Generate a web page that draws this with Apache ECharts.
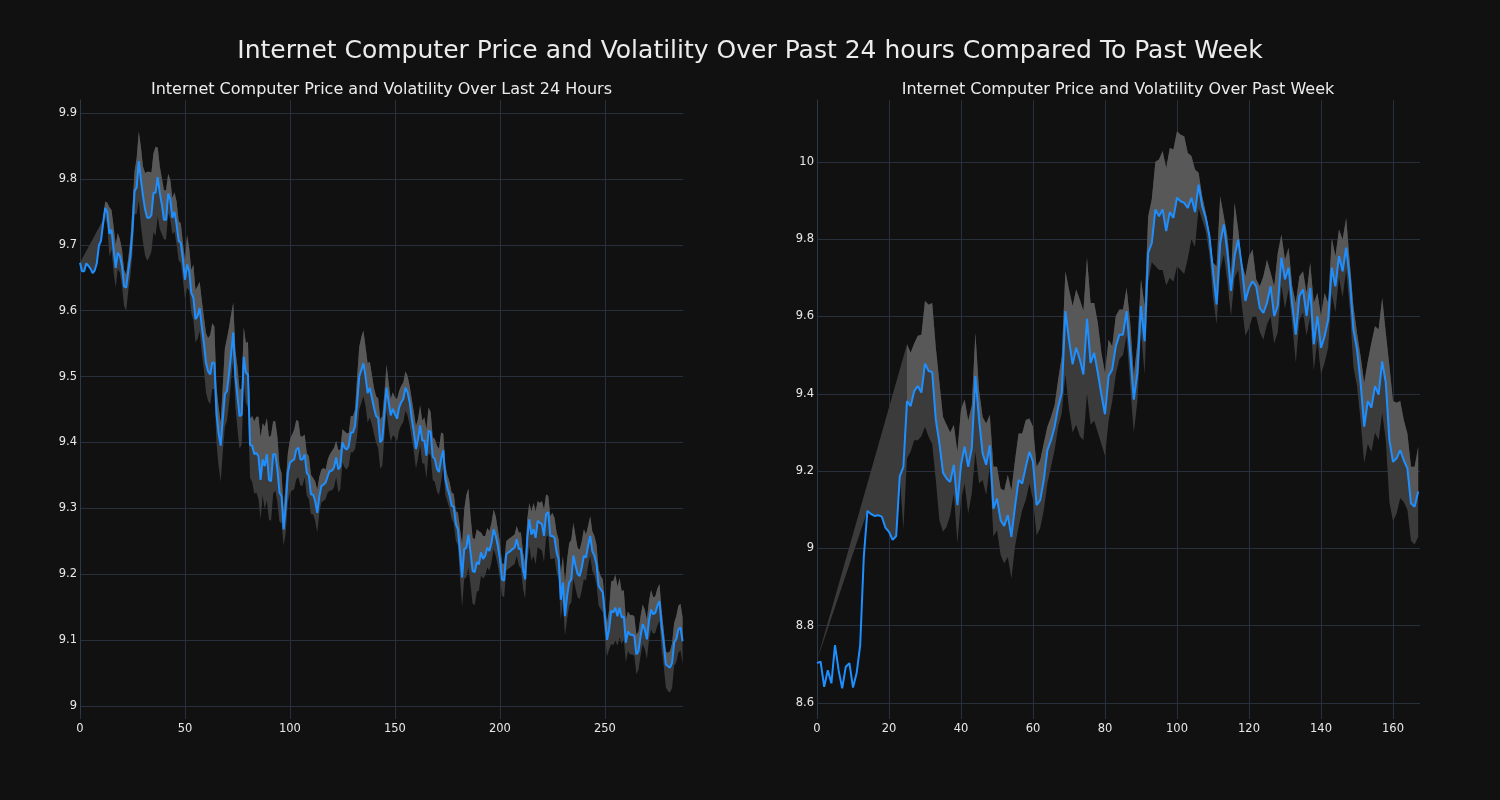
<!DOCTYPE html>
<html>
<head>
<meta charset="utf-8">
<script src="https://cdn.jsdelivr.net/npm/echarts@6/dist/echarts.min.js"></script>
<style>
html,body{margin:0;padding:0;background:#111111;}
#chart{width:1500px;height:800px;}
</style>
</head>
<body>
<div id="chart"></div>
<script>
// ---------- Data: last 24 hours (index = 5-minute step) ----------
const dayPrice = [
9.673,9.660,9.660,9.672,9.668,9.664,9.657,9.661,9.672,9.699,
9.706,9.733,9.756,9.749,9.717,9.723,9.693,9.665,9.688,9.683,
9.668,9.637,9.635,9.660,9.683,9.723,9.782,9.787,9.827,9.799,
9.774,9.754,9.741,9.741,9.745,9.779,9.779,9.803,9.779,9.761,
9.738,9.738,9.778,9.769,9.741,9.750,9.731,9.706,9.703,9.678,
9.647,9.670,9.660,9.627,9.620,9.587,9.592,9.604,9.576,9.551,
9.521,9.508,9.503,9.521,9.521,9.444,9.414,9.395,9.435,9.473,
9.478,9.505,9.535,9.567,9.500,9.470,9.440,9.442,9.530,9.506,
9.503,9.396,9.395,9.382,9.384,9.379,9.343,9.374,9.364,9.382,
9.343,9.341,9.382,9.382,9.359,9.324,9.318,9.268,9.303,9.354,
9.369,9.372,9.374,9.389,9.392,9.374,9.374,9.382,9.354,9.349,
9.321,9.321,9.311,9.293,9.318,9.334,9.336,9.339,9.349,9.357,
9.357,9.362,9.377,9.359,9.364,9.400,9.392,9.389,9.394,9.415,
9.415,9.425,9.460,9.500,9.510,9.520,9.500,9.475,9.483,9.468,
9.453,9.440,9.437,9.400,9.405,9.445,9.483,9.461,9.441,9.451,
9.443,9.436,9.453,9.461,9.466,9.483,9.476,9.461,9.436,9.416,
9.390,9.405,9.426,9.403,9.403,9.380,9.418,9.416,9.378,9.375,
9.360,9.355,9.375,9.388,9.345,9.330,9.320,9.304,9.302,9.276,
9.268,9.233,9.195,9.238,9.240,9.260,9.233,9.205,9.203,9.218,
9.215,9.233,9.223,9.228,9.240,9.235,9.248,9.268,9.258,9.243,
9.223,9.192,9.190,9.230,9.233,9.235,9.238,9.240,9.253,9.238,
9.238,9.208,9.192,9.253,9.283,9.260,9.268,9.255,9.281,9.278,
9.276,9.258,9.291,9.294,9.258,9.258,9.255,9.233,9.222,9.161,
9.187,9.136,9.167,9.187,9.192,9.228,9.213,9.200,9.197,9.210,
9.228,9.225,9.243,9.258,9.235,9.228,9.215,9.182,9.177,9.172,
9.136,9.100,9.116,9.144,9.142,9.149,9.136,9.149,9.134,9.136,
9.096,9.113,9.108,9.108,9.106,9.078,9.083,9.106,9.124,9.116,
9.101,9.129,9.146,9.139,9.141,9.152,9.159,9.121,9.096,9.063,
9.060,9.058,9.065,9.096,9.101,9.116,9.119,9.098
];
// volatility above the price (null = not yet available)
const dayVolUp = [
0,null,null,null,null,null,null,null,null,null,
null,.005,.01,.015,.04,.03,.035,.035,.03,.025,
.025,.025,.02,.02,.025,.035,.03,.045,.045,.05,
.045,.055,.07,.07,.065,.06,.07,.045,.04,.04,
.045,.045,.03,.03,.03,.03,.035,.03,.03,.025,
.03,.045,.035,.035,.05,.045,.045,.04,.04,.04,
.045,.05,.06,.06,.055,.04,.04,.035,.05,.07,
.08,.07,.06,.045,.04,.045,.04,.04,.045,.045,
.05,.04,.045,.05,.055,.06,.065,.055,.06,.055,
.065,.07,.05,.05,.05,.04,.035,.03,.035,.03,
.035,.04,.045,.045,.04,.035,.035,.03,.03,.03,
.03,.025,.03,.035,.03,.025,.025,.02,.025,.025,
.03,.03,.025,.03,.025,.02,.025,.025,.02,.025,
.025,.025,.04,.045,.05,.05,.045,.045,.04,.035,
.03,.03,.03,.035,.035,.03,.035,.03,.025,.025,
.025,.03,.025,.025,.025,.025,.025,.025,.03,.03,
.035,.03,.03,.03,.035,.04,.035,.03,.03,.03,
.035,.035,.04,.025,.02,.02,.02,.02,.02,.02,
.025,.035,.05,.06,.08,.07,.055,.05,.05,.05,
.05,.03,.035,.03,.03,.03,.03,.03,.03,.025,
.025,.025,.025,.02,.02,.02,.02,.02,.02,.025,
.025,.025,.025,.03,.025,.035,.04,.04,.03,.03,
.035,.04,.03,.025,.03,.035,.03,.03,.03,.04,
.04,.05,.055,.06,.06,.05,.045,.04,.04,.04,
.04,.035,.03,.03,.03,.03,.03,.025,.02,.02,
.02,.025,.03,.045,.048,.05,.045,.045,.04,.04,
.035,.03,.03,.03,.03,.03,.03,.03,.03,.03,
.03,.03,.03,.026,.025,.026,.026,.025,.02,.02,
.02,.025,.03,.03,.035,.036,.036,.036
];
// volatility below the price
const dayVolDown = [
0,0,0,0,0,0,0,0,0,0,
0,.01,.015,.02,.035,.03,.035,.03,.025,.025,
.03,.03,.035,.03,.03,.035,.035,.04,.06,.07,
.07,.07,.065,.06,.055,.06,.065,.06,.055,.045,
.03,.03,.03,.03,.025,.03,.03,.03,.03,.03,
.03,.035,.03,.03,.035,.035,.035,.035,.04,.04,
.045,.045,.045,.04,.04,.045,.05,.055,.05,.05,
.045,.045,.04,.04,.045,.05,.05,.045,.04,.045,
.05,.05,.055,.06,.06,.065,.06,.055,.065,.07,
.06,.06,.06,.055,.05,.045,.04,.025,.04,.045,
.045,.045,.045,.045,.045,.04,.04,.035,.035,.035,
.03,.03,.03,.03,.025,.025,.025,.025,.025,.03,
.03,.03,.03,.035,.035,.03,.03,.03,.03,.03,
.03,.035,.05,.05,.05,.05,.045,.045,.045,.04,
.04,.04,.045,.04,.04,.035,.035,.04,.04,.04,
.035,.035,.035,.035,.035,.035,.035,.035,.03,.03,
.03,.03,.03,.035,.035,.035,.035,.035,.035,.035,
.035,.035,.035,.025,.025,.02,.02,.02,.025,.025,
.025,.04,.045,.045,.045,.05,.05,.05,.05,.045,
.04,.035,.03,.03,.03,.03,.03,.03,.03,.03,
.03,.025,.025,.025,.025,.025,.025,.025,.025,.025,
.03,.03,.03,.035,.04,.04,.04,.04,.04,.04,
.04,.04,.035,.035,.035,.035,.03,.03,.03,.03,
.03,.03,.035,.035,.035,.035,.035,.035,.035,.035,
.035,.035,.03,.03,.03,.03,.03,.03,.03,.03,
.03,.025,.03,.05,.05,.05,.045,.045,.04,.035,
.03,.03,.03,.03,.03,.03,.028,.03,.03,.03,
.03,.03,.03,.03,.03,.03,.03,.035,.035,.035,
.038,.038,.038,.035,.035,.035,.035,.035
];

// ---------- Data: past week (index = hourly step) ----------
const weekPrice = [
8.703,8.707,8.642,8.685,8.651,8.750,8.685,8.638,8.694,8.703,
8.640,8.677,8.750,8.978,9.097,9.089,9.084,9.086,9.082,9.054,
9.043,9.022,9.032,9.187,9.211,9.381,9.368,9.407,9.420,9.403,
9.478,9.459,9.456,9.333,9.272,9.196,9.181,9.172,9.216,9.112,
9.216,9.263,9.211,9.259,9.446,9.335,9.246,9.216,9.267,9.103,
9.129,9.073,9.058,9.086,9.030,9.108,9.177,9.168,9.211,9.250,
9.224,9.112,9.125,9.177,9.254,9.280,9.315,9.366,9.403,9.614,
9.540,9.476,9.519,9.489,9.450,9.594,9.480,9.506,9.454,9.398,
9.347,9.446,9.463,9.523,9.553,9.553,9.614,9.506,9.385,9.454,
9.627,9.536,9.765,9.790,9.877,9.859,9.877,9.821,9.870,9.855,
9.907,9.898,9.894,9.881,9.907,9.870,9.941,9.885,9.855,9.808,
9.717,9.631,9.790,9.838,9.765,9.666,9.757,9.799,9.730,9.640,
9.674,9.691,9.678,9.622,9.609,9.635,9.678,9.601,9.627,9.752,
9.696,9.726,9.631,9.553,9.653,9.670,9.601,9.674,9.528,9.601,
9.519,9.549,9.592,9.726,9.678,9.756,9.717,9.778,9.696,9.566,
9.515,9.428,9.315,9.381,9.364,9.420,9.398,9.484,9.428,9.280,
9.224,9.233,9.254,9.228,9.207,9.116,9.108,9.147
];
const weekHigh = [
8.71,null,null,null,null,null,null,null,null,null,
null,null,null,null,null,null,null,null,null,null,
null,null,null,null,null,9.528,9.506,9.53,9.55,9.553,
9.64,9.63,9.635,9.52,9.43,9.34,9.32,9.30,9.32,9.25,
9.36,9.385,9.33,9.37,9.558,9.41,9.34,9.323,9.346,9.211,
9.211,9.155,9.15,9.19,9.15,9.228,9.297,9.297,9.332,9.336,
9.315,9.211,9.228,9.272,9.315,9.34,9.37,9.437,9.497,9.717,
9.67,9.627,9.67,9.644,9.614,9.752,9.635,9.635,9.584,9.506,
9.454,9.54,9.523,9.601,9.618,9.618,9.674,9.584,9.446,9.532,
9.696,9.627,9.859,9.903,10.0,10.006,10.028,9.984,10.036,10.032,
10.079,10.07,10.066,10.023,10.015,9.98,9.972,9.911,9.868,9.816,
9.739,9.73,9.911,9.859,9.808,9.704,9.894,9.825,9.739,9.704,
9.756,9.773,9.696,9.678,9.704,9.747,9.713,9.678,9.765,9.812,
9.747,9.778,9.678,9.635,9.704,9.717,9.661,9.739,9.635,9.661,
9.601,9.661,9.635,9.803,9.756,9.825,9.799,9.855,9.739,9.627,
9.558,9.497,9.428,9.484,9.532,9.575,9.566,9.648,9.558,9.472,
9.381,9.377,9.381,9.332,9.297,9.211,9.211,9.263
];
const weekLow = [
8.71,null,null,null,null,null,null,null,null,null,
null,null,null,null,9.097,9.089,9.084,9.086,9.082,9.054,
9.043,9.022,9.032,9.187,9.05,9.233,9.25,9.28,9.28,9.29,
9.315,9.289,9.27,9.177,9.073,9.043,9.056,9.086,9.142,9.013,
9.125,9.168,9.09,9.142,9.25,9.168,9.177,9.138,9.211,9.03,
9.047,8.983,8.961,8.978,8.922,9.004,9.056,9.099,9.125,9.168,
9.125,9.034,9.052,9.099,9.168,9.211,9.254,9.315,9.35,9.45,
9.36,9.30,9.32,9.29,9.28,9.40,9.32,9.33,9.30,9.27,
9.24,9.33,9.38,9.45,9.49,9.50,9.55,9.42,9.30,9.38,
9.56,9.45,9.69,9.74,9.73,9.72,9.72,9.68,9.70,9.69,
9.73,9.72,9.71,9.75,9.80,9.78,9.88,9.85,9.82,9.76,
9.65,9.58,9.72,9.76,9.69,9.60,9.70,9.72,9.63,9.55,
9.57,9.60,9.60,9.56,9.54,9.58,9.60,9.53,9.56,9.68,
9.62,9.67,9.58,9.48,9.59,9.61,9.55,9.60,9.46,9.54,
9.45,9.48,9.52,9.66,9.61,9.70,9.65,9.72,9.62,9.47,
9.42,9.33,9.22,9.27,9.25,9.30,9.28,9.35,9.28,9.12,
9.07,9.09,9.13,9.12,9.10,9.02,9.01,9.03
];

const mainTitle = 'Internet Computer Price and Volatility Over Past 24 hours Compared To Past Week';
const leftTitle = 'Internet Computer Price and Volatility Over Last 24 Hours';
const rightTitle = 'Internet Computer Price and Volatility Over Past Week';

// ---------- Build band edges ----------
const dayHigh = dayPrice.map((p, i) => dayVolUp[i] == null ? null : +(p + dayVolUp[i]).toFixed(4));
const dayLow = dayPrice.map((p, i) => dayVolDown[i] == null ? null : +(p - dayVolDown[i]).toFixed(4));

function fullBand(high, low) {
  const pts = [];
  high.forEach((v, i) => { if (v != null) pts.push([i, v]); });
  for (let i = low.length - 1; i >= 0; i--) if (low[i] != null) pts.push([i, low[i]]);
  return pts;
}
function upperBand(high, price) {
  let s = high.length - 1;
  while (s > 0 && high[s - 1] != null) s--;
  const pts = [];
  for (let i = s; i < high.length; i++) pts.push([i, high[i]]);
  for (let i = high.length - 1; i >= s; i--) pts.push([i, price[i]]);
  return pts;
}
function polySeries(pts, color, idx, z) {
  return {
    type: 'custom', xAxisIndex: idx, yAxisIndex: idx,
    silent: true, animation: false, clip: true, z: z,
    data: [[pts[0][0], pts[0][1]]],
    renderItem: function (params, api) {
      return {
        type: 'polygon',
        shape: { points: pts.map(p => api.coord(p)) },
        style: { fill: color }
      };
    }
  };
}
function lineSeries(price, idx) {
  return {
    type: 'line', xAxisIndex: idx, yAxisIndex: idx,
    data: price.map((v, i) => [i, v]),
    showSymbol: false, symbol: 'none', animation: false, z: 5,
    lineStyle: { color: '#1f8fff', width: 2 }
  };
}

const gridColor = '#27303c';
const labelColor = '#e8e8e8';
const font = 'DejaVu Sans';

function xAx(idx, max, interval) {
  return {
    gridIndex: idx, type: 'value', min: 0, max: max, interval: interval,
    axisLine: { show: false },
    axisTick: { show: true, length: 4, lineStyle: { color: gridColor } },
    axisLabel: { color: labelColor, fontSize: 11.5, fontFamily: font, margin: 8, showMaxLabel: false },
    splitLine: { show: true, showMaxLine: false, lineStyle: { color: gridColor, width: 1 } }
  };
}
function yAx(idx, min, max, split) {
  return {
    gridIndex: idx, type: 'value', min: min, max: max, splitNumber: split,
    axisLine: { show: true, lineStyle: { color: '#2e3947', width: 1 } },
    axisTick: { show: false },
    axisLabel: { color: labelColor, fontSize: 11.5, fontFamily: font, margin: 3,
                 showMinLabel: false, showMaxLabel: false },
    splitLine: { show: true, showMinLine: false, showMaxLine: false, lineStyle: { color: gridColor, width: 1 } }
  };
}

const chart = echarts.init(document.getElementById('chart'), null, { renderer: 'canvas' });
chart.setOption({
  backgroundColor: '#111111',
  textStyle: { fontFamily: font },
  animation: false,
  title: [
    { text: mainTitle, left: 745, textAlign: 'center', top: 34,
      textStyle: { color: '#ececec', fontSize: 25, fontWeight: 'normal', fontFamily: font } },
    { text: leftTitle, left: 376.5, textAlign: 'center', top: 77,
      textStyle: { color: '#ececec', fontSize: 16, fontWeight: 'normal', fontFamily: font } },
    { text: rightTitle, left: 1113, textAlign: 'center', top: 77,
      textStyle: { color: '#ececec', fontSize: 16, fontWeight: 'normal', fontFamily: font } }
  ],
  grid: [
    { left: 80, right: 817, top: 100, bottom: 85, containLabel: false },
    { left: 817, right: 80, top: 100, bottom: 85, containLabel: false }
  ],
  xAxis: [xAx(0, 287.2, 50), xAx(1, 167.5, 20)],
  yAxis: [yAx(0, 8.986, 9.92, 10), yAx(1, 8.569, 10.16, 8)],
  series: [
    polySeries(fullBand(dayHigh, dayLow), '#3b3b3b', 0, 1),
    polySeries(upperBand(dayHigh, dayPrice), '#585858', 0, 2),
    lineSeries(dayPrice, 0),
    polySeries(fullBand(weekHigh, weekLow), '#3b3b3b', 1, 1),
    polySeries(upperBand(weekHigh, weekPrice), '#585858', 1, 2),
    lineSeries(weekPrice, 1)
  ]
});
</script>
</body>
</html>
